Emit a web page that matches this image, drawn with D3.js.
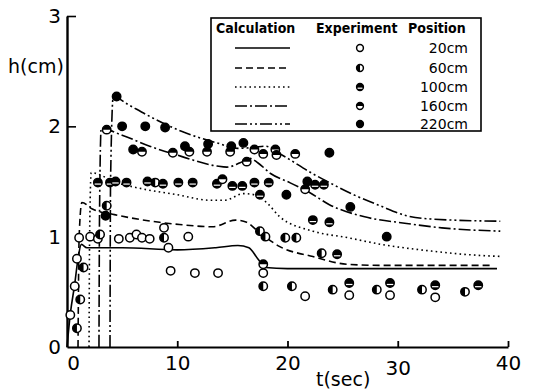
<!DOCTYPE html>
<html>
<head>
<meta charset="utf-8">
<script src="https://cdn.jsdelivr.net/npm/d3@7"></script>
<style>
  body { margin: 0; background: #fff; }
  svg { display: block; }
</style>
</head>
<body>
<svg id="chart" width="533" height="391"></svg>
<script>
const xTicks = [0, 10, 20, 30, 40];
const yTicks = [0, 1, 2, 3];
const positions = ['20cm', '60cm', '100cm', '160cm', '220cm'];
const headers = ['Calculation', 'Experiment', 'Position'];

// calculated curves [t(sec), h(cm)]
const calc20 = [[0, 0], [0.3, 0.3], [0.7, 0.57], [1.0, 0.8], [1.3, 0.93], [1.8, 0.9], [5, 0.9], [10, 0.88],
  [13.5, 0.9], [15.5, 0.92], [16.5, 0.9], [17.3, 0.8], [18, 0.72], [20, 0.71], [39, 0.71]];
const calc60 = [[1.0, 0], [1.1, 1.0], [1.35, 1.31], [2.3, 1.25], [4.3, 1.2], [8.4, 1.13], [10.2, 1.11],
  [13.2, 1.09], [15.3, 1.15], [16.3, 1.13], [17.3, 1.05], [19.3, 0.91], [22.3, 0.82], [25.4, 0.75],
  [28.4, 0.74], [38.5, 0.74]];
const calc100 = [[2.0, 0], [2.05, 1.0], [2.2, 1.58], [4.5, 1.49], [7, 1.43], [10, 1.38], [13, 1.33],
  [14.3, 1.33], [16, 1.39], [17, 1.38], [18.2, 1.3], [19.3, 1.18], [22.3, 1.05], [25.5, 0.99],
  [28.5, 0.93], [33, 0.87], [36, 0.84], [39.5, 0.82]];
const calc160 = [[2.9, 0], [2.95, 1.2], [3.1, 1.98], [5, 1.92], [7.5, 1.82], [10.3, 1.73], [13.6, 1.64],
  [14.5, 1.63], [15.7, 1.67], [16.6, 1.71], [17.3, 1.67], [18.5, 1.57], [20.2, 1.49], [22, 1.4],
  [23.8, 1.29], [27, 1.18], [30.8, 1.12], [34, 1.08], [39.3, 1.05]];
const calc220 = [[3.9, 0], [3.95, 1.5], [4.2, 2.27], [5.5, 2.2], [7.5, 2.09], [10.5, 1.95], [13.6, 1.85],
  [15.5, 1.8], [17, 1.81], [18, 1.82], [19.5, 1.74], [22.3, 1.57], [23.8, 1.49], [26, 1.38],
  [28.4, 1.28], [30.8, 1.19], [33, 1.16], [39.3, 1.14]];

// experiment points [t(sec), h(cm)]
const exp20 = [[0.3, 0.29], [0.7, 0.55], [0.9, 0.8], [1.1, 0.99], [2.1, 1.0], [2.8, 0.98], [4.7, 0.98],
  [5.7, 0.99], [6.3, 1.02], [6.8, 0.99], [7.5, 0.98], [8.8, 1.08], [9.2, 0.9], [9.4, 0.69], [11.0, 1.0],
  [11.6, 0.67], [13.7, 0.67], [17.8, 0.67], [21.6, 0.46], [25.6, 0.47], [29.3, 0.47], [33.4, 0.45]];
const exp60 = [[0.9, 0.17], [1.2, 0.43], [1.5, 0.72], [3.0, 1.02], [3.6, 1.28], [8.0, 1.49], [8.8, 0.99],
  [17.5, 1.05], [18.0, 1.0], [19.8, 0.99], [20.8, 0.99], [23.1, 0.85], [17.8, 0.55], [20.4, 0.55],
  [24.1, 0.52], [28.1, 0.52], [32.2, 0.52], [36.1, 0.5]];
const exp100 = [[2.8, 1.49], [3.9, 1.49], [4.4, 1.5], [5.4, 1.49], [7.3, 1.5], [8.7, 1.48], [10.1, 1.49],
  [11.4, 1.49], [13.6, 1.48], [15.0, 1.46], [15.9, 1.46], [17.0, 1.49], [18.3, 1.49], [17.5, 1.38],
  [22.5, 1.47], [23.3, 1.47], [22.3, 1.15], [23.8, 1.13], [24.5, 0.84], [25.6, 0.58], [29.3, 0.58],
  [33.4, 0.56], [37.3, 0.56]];
const exp160 = [[3.6, 1.97], [6.8, 1.77], [9.6, 1.76], [11.1, 1.77], [12.7, 1.77], [14.8, 1.77],
  [17.0, 1.79], [17.8, 1.75], [18.9, 1.79], [19.0, 1.74], [20.7, 1.75], [16.3, 1.68], [17.8, 0.75],
  [14.1, 1.52], [21.6, 1.43]];
const exp220 = [[4.5, 2.27], [5.0, 2.0], [7.1, 2.0], [8.9, 1.99], [6.0, 1.79], [10.7, 1.82], [12.8, 1.84],
  [14.9, 1.82], [16.0, 1.85], [23.8, 1.76], [3.5, 1.19], [19.9, 1.38], [21.8, 1.5], [25.7, 1.27],
  [29.0, 1.0]];

const curves = [calc20, calc60, calc100, calc160, calc220];
const experiments = [exp20, exp60, exp100, exp160, exp220];
const dashes = [null, '7,4', '1.6,3.2', '12,3,2,3', '12,3,2,3,2,3'];
const markers = ['open', 'left', 'stripe', 'top', 'full'];

const svg = d3.select('#chart');
const margin = { top: 16, right: 25, bottom: 44, left: 67 };
const width = 533;
const height = 391;

const x = d3.scaleLinear()
  .domain([0, 40])
  .range([margin.left, width - margin.right]);

const y = d3.scaleLinear()
  .domain([0, 3])
  .range([height - margin.bottom, margin.top]);

const font = 'DejaVu Sans, sans-serif';

svg.append('g')
  .attr('transform', `translate(0,${y(0)})`)
  .call(d3.axisBottom(x).tickValues(xTicks).tickFormat(d3.format('d')).tickSize(-6).tickSizeOuter(0).tickPadding(9))
  .call(g => g.select('.domain').attr('stroke-width', 2))
  .call(g => g.selectAll('.tick line').attr('stroke-width', 1.8))
  .call(g => g.selectAll('.tick text').attr('font-family', font).attr('font-size', 20).attr('fill', '#000'))
  .call(g => g.selectAll('.tick').filter(d => d === 0).select('line').remove())
  .call(g => g.selectAll('.tick').filter(d => d === 0).select('text').attr('dx', 6))
  .call(g => g.selectAll('.tick').filter(d => d === 30).select('text').attr('dy', '0.95em'));

svg.append('g')
  .attr('transform', `translate(${x(0)},0)`)
  .call(d3.axisLeft(y).tickValues(yTicks).tickFormat(d3.format('d')).tickSize(-9).tickSizeOuter(0).tickPadding(6))
  .call(g => g.select('.domain').attr('stroke-width', 2.4))
  .call(g => g.selectAll('.tick line').attr('stroke-width', 1.6))
  .call(g => g.selectAll('.tick').filter(d => d === 0 || d === 1).select('line').remove())
  .call(g => g.selectAll('.tick text').attr('font-family', font).attr('font-size', 20).attr('fill', '#000'));

svg.append('text')
  .attr('x', 8)
  .attr('y', 73)
  .attr('font-family', font)
  .attr('font-size', 19)
  .text('h(cm)');

svg.append('text')
  .attr('x', 316)
  .attr('y', 386)
  .attr('font-family', font)
  .attr('font-size', 19)
  .text('t(sec)');

const line = d3.line()
  .x(d => x(d[0]))
  .y(d => y(d[1]))
  .curve(d3.curveMonotoneX);

svg.append('g')
  .selectAll('path')
  .data(curves)
  .join('path')
  .attr('fill', 'none')
  .attr('stroke', '#000')
  .attr('stroke-width', 1.6)
  .attr('stroke-dasharray', (d, i) => dashes[i])
  .attr('d', line);

function drawMarker(g, type, r) {
  g.append('circle')
    .attr('r', r)
    .attr('fill', type === 'full' || type === 'stripe' ? '#000' : '#fff')
    .attr('stroke', '#000')
    .attr('stroke-width', 1.5);
  if (type === 'left') {
    g.append('path').attr('d', `M0,${-r}A${r},${r} 0 0 0 0,${r}Z`).attr('fill', '#000');
  } else if (type === 'top') {
    g.append('path').attr('d', `M${-r},0A${r},${r} 0 0 1 ${r},0Z`).attr('fill', '#000');
  } else if (type === 'stripe') {
    g.append('line')
      .attr('x1', -r + 1).attr('x2', r - 1)
      .attr('y1', r * 0.35).attr('y2', r * 0.35)
      .attr('stroke', '#fff').attr('stroke-width', 1.2);
  }
}

experiments.forEach((pts, i) => {
  svg.append('g')
    .selectAll('g')
    .data(pts)
    .join('g')
    .attr('transform', d => `translate(${x(d[0])},${y(d[1])})`)
    .each(function () { drawMarker(d3.select(this), markers[i], 4.2); });
});

// legend
const legend = svg.append('g');
legend.append('rect')
  .attr('x', 211)
  .attr('y', 18)
  .attr('width', 270)
  .attr('height', 113)
  .attr('fill', 'none')
  .attr('stroke', '#000')
  .attr('stroke-width', 1.6);

legend.selectAll('text.head')
  .data(headers)
  .join('text')
  .attr('class', 'head')
  .attr('x', (d, i) => [216, 316, 408][i])
  .attr('y', 33)
  .attr('font-family', 'DejaVu Sans Condensed, DejaVu Sans, sans-serif')
  .attr('font-weight', 'bold')
  .attr('font-size', 14)
  .text(d => d);

const rowY = [48, 68, 87, 106, 124];
positions.forEach((p, i) => {
  legend.append('line')
    .attr('x1', 235).attr('x2', 290)
    .attr('y1', rowY[i]).attr('y2', rowY[i])
    .attr('stroke', '#000')
    .attr('stroke-width', 1.6)
    .attr('stroke-dasharray', dashes[i]);
  const m = legend.append('g').attr('transform', `translate(360,${rowY[i]})`);
  drawMarker(m, markers[i], 3.4);
  legend.append('text')
    .attr('x', 468)
    .attr('y', rowY[i] + 5)
    .attr('text-anchor', 'end')
    .attr('font-family', font)
    .attr('font-size', 14)
    .text(p);
});
</script>
</body>
</html>
